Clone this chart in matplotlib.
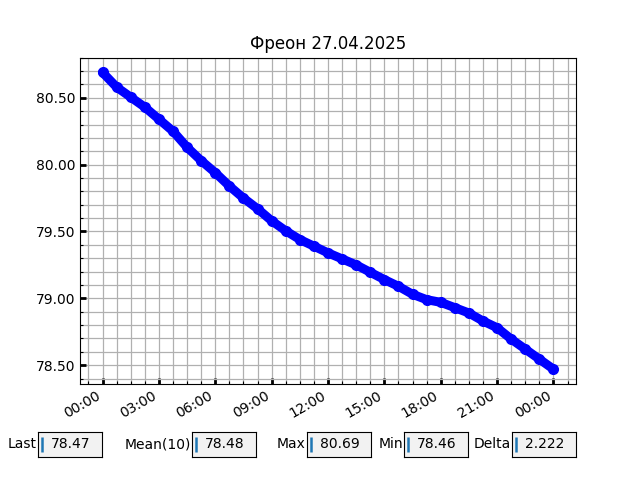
import numpy as np
import pandas as pd
import matplotlib
matplotlib.use("Agg")
import matplotlib.pyplot as plt
import matplotlib.dates as mdates
from matplotlib.ticker import MultipleLocator, AutoMinorLocator, FormatStrFormatter

times = pd.date_range("2025-04-27 00:00", periods=33, freq="45min")
values = [80.69, 80.58, 80.505, 80.43, 80.34, 80.25, 80.13, 80.03, 79.94,
          79.84, 79.75, 79.67, 79.58, 79.505, 79.44, 79.39, 79.34, 79.295,
          79.25, 79.195, 79.14, 79.09, 79.03, 78.99, 78.97, 78.93, 78.89,
          78.83, 78.78, 78.695, 78.62, 78.545, 78.47]

stat_labels = ["Last", "Mean(10)", "Max", "Min", "Delta"]
stat_values = ["78.47", "78.48", "80.69", "78.46", "2.222"]
box_lefts = [0.06, 0.30, 0.48, 0.632, 0.80]

fig, ax = plt.subplots(figsize=(6.4, 4.8), dpi=100)
ax.plot(times, values, color="blue", lw=6.5, solid_capstyle="round",
        solid_joinstyle="round", marker="o", markersize=7)
ax.set_title("Фреон 27.04.2025")

ax.xaxis.set_major_locator(mdates.HourLocator(byhour=range(0, 24, 3)))
ax.xaxis.set_major_formatter(mdates.DateFormatter("%H:%M"))
ax.xaxis.set_minor_locator(AutoMinorLocator(4))
ax.yaxis.set_major_locator(MultipleLocator(0.5))
ax.yaxis.set_minor_locator(MultipleLocator(0.1))
ax.yaxis.set_major_formatter(FormatStrFormatter("%.2f"))

ax.grid(True, which="both", color="#b0b0b0", lw=0.9)
ax.tick_params(which="major", direction="in", length=4, width=2)
ax.tick_params(which="minor", direction="in", length=2.5, width=0.8)
fig.autofmt_xdate()
fig.subplots_adjust(left=0.125, right=0.9, top=0.88, bottom=0.2)

for lab, val, left in zip(stat_labels, stat_values, box_lefts):
    bax = fig.add_axes([left, 0.048, 0.1, 0.052], facecolor="0.95")
    bax.set_xticks([])
    bax.set_yticks([])
    bax.set_xlim(0, 1)
    bax.set_ylim(0, 1)
    bax.text(-0.02, 0.5, lab, ha="right", va="center", fontsize=10,
             transform=bax.transAxes)
    bax.text(0.2, 0.5, val, ha="left", va="center", fontsize=10)
    bax.vlines(0.055, 0.2, 0.78, color="tab:blue", lw=1.8)

fig.savefig("out.png", dpi=100)
